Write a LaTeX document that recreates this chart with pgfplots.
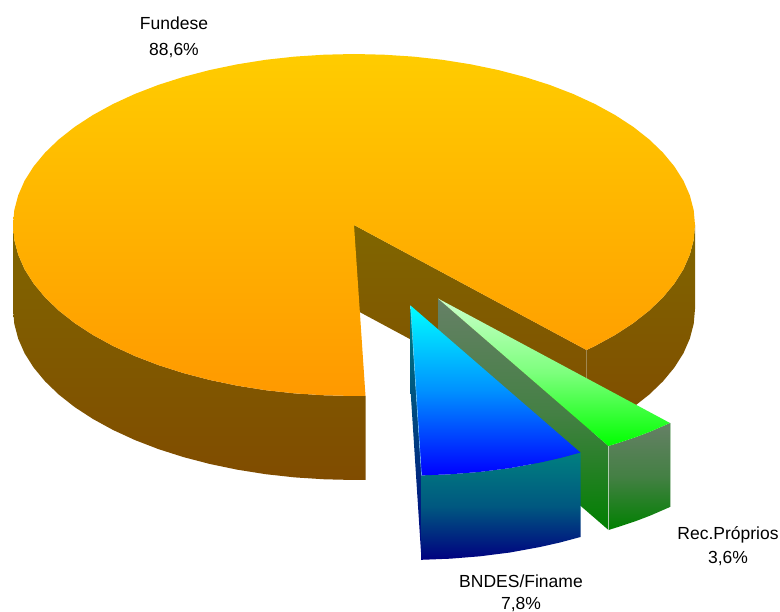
\documentclass[border=0pt]{standalone}
\usepackage{pgfplots}
\pgfplotsset{compat=1.18}
\usepackage{fontspec}
\setmainfont{Liberation Sans}

\definecolor{orangetop}{RGB}{255,204,0}
\definecolor{orangebot}{RGB}{255,153,0}
\definecolor{browntop}{RGB}{128,102,0}
\definecolor{brownbot}{RGB}{128,76,0}
\definecolor{bluetop}{RGB}{0,255,255}
\definecolor{bluemid}{RGB}{0,145,255}
\definecolor{bluebot}{RGB}{0,0,255}
\definecolor{tealtop}{RGB}{0,128,128}
\definecolor{tealmid}{RGB}{0,88,128}
\definecolor{tealbot}{RGB}{0,0,128}
\definecolor{greentop}{RGB}{204,255,204}
\definecolor{greenmid}{RGB}{125,255,125}
\definecolor{greenbot}{RGB}{0,255,0}
\definecolor{dgreentop}{RGB}{102,128,102}
\definecolor{dgreenmid}{RGB}{68,128,68}
\definecolor{dgreenbot}{RGB}{0,128,0}
\definecolor{brownedge}{RGB}{160,135,80}
\definecolor{greenedge}{RGB}{175,205,175}

\begin{document}
\begin{tikzpicture}
\begin{axis}[
    width=780pt, height=612pt, scale only axis,
    xmin=0, xmax=780, ymin=0, ymax=612,
    y dir=reverse,
    hide axis,
    clip=false,
]
\path (axis cs:0,0) rectangle (axis cs:780,612);
% Fundese, outer wall left
\addplot[draw=none, top color=browntop, bottom color=brownbot] coordinates {
    (365.5,396) (354,396) (324.3,395.3) (294.8,393.4) (265.7,390.2) (237.4,385.7)
    (209.9,380) (183.5,373.1) (158.4,365.1) (134.8,356) (112.9,345.9) (92.8,334.9)
    (74.7,323.1) (58.7,310.5) (45,297.3) (33.6,283.5) (24.6,269.3) (18.2,254.7)
    (14.3,239.9) (13,225)
    (13,309) (14.3,323.9) (18.2,338.7) (24.6,353.3) (33.6,367.5) (45,381.3)
    (58.7,394.5) (74.7,407.1) (92.8,418.9) (112.9,429.9) (134.8,440) (158.4,449.1)
    (183.5,457.1) (209.9,464) (237.4,469.7) (265.7,474.2) (294.8,477.4) (324.3,479.3)
    (354,480) (365.5,480)
} -- cycle;
% Fundese, outer wall right
\addplot[draw=none, top color=browntop, bottom color=brownbot] coordinates {
    (695,225) (693.7,239.9) (689.8,254.7) (683.4,269.3) (674.4,283.5) (663,297.3)
    (649.3,310.5) (633.3,323.1) (615.2,334.9) (595.1,345.9) (586.5,350)
    (586.5,434) (595.1,429.9) (615.2,418.9) (633.3,407.1) (649.3,394.5) (663,381.3)
    (674.4,367.5) (683.4,353.3) (689.8,338.7) (693.7,323.9) (695,309)
} -- cycle;
% Fundese, inner wall
\addplot[draw=none, top color=browntop, bottom color=brownbot] coordinates {
    (354,225) (586.5,350) (586.5,434) (354,309)
} -- cycle;
\addplot[brownedge, line width=0.5pt] coordinates {(586.5,350) (586.5,392)};
% Fundese, top
\addplot[draw=none, top color=orangetop, bottom color=orangebot] coordinates {
    (354,225) (365.5,396) (354,396) (324.3,395.3) (294.8,393.4) (265.7,390.2) (237.4,385.7)
    (209.9,380) (183.5,373.1) (158.4,365.1) (134.8,356) (112.9,345.9) (92.8,334.9)
    (74.7,323.1) (58.7,310.5) (45,297.3) (33.6,283.5) (24.6,269.3) (18.2,254.7)
    (14.3,239.9) (13,225) (14.3,210.1) (18.2,195.3) (24.6,180.7) (33.6,166.5)
    (45,152.7) (58.7,139.5) (74.7,126.9) (92.8,115.1) (112.9,104.1) (134.8,94)
    (158.4,84.9) (183.5,76.9) (209.9,70) (237.4,64.3) (265.7,59.8) (294.8,56.6)
    (324.3,54.7) (354,54) (383.7,54.7) (413.2,56.6) (442.3,59.8) (470.6,64.3)
    (498.1,70) (524.5,76.9) (549.6,84.9) (573.2,94) (595.1,104.1) (615.2,115.1)
    (633.3,126.9) (649.3,139.5) (663,152.7) (674.4,166.5) (683.4,180.7) (689.8,195.3)
    (693.7,210.1) (695,225) (693.7,239.9) (689.8,254.7) (683.4,269.3) (674.4,283.5)
    (663,297.3) (649.3,310.5) (633.3,323.1) (615.2,334.9) (595.1,345.9) (586.5,350)
} -- cycle;

% Rec.Proprios
\addplot[draw=none, top color=dgreentop, bottom color=dgreenbot, middle color=dgreenmid] coordinates {
    (438,298.5) (608.5,446) (608.5,530) (438,382.5)
} -- cycle;
\addplot[draw=none, top color=dgreentop, bottom color=dgreenbot, middle color=dgreenmid] coordinates {
    (608.5,446) (620,442.4) (635,437.4) (650,431.7) (670,423)
    (670,507) (650,515.7) (635,521.4) (620,526.4) (608.5,530)
} -- cycle;
\addplot[draw=none, top color=greentop, bottom color=greenbot, middle color=greenmid] coordinates {
    (438,298.5) (670,423) (650,431.7) (635,437.4) (620,442.4) (608.5,446)
} -- cycle;
\addplot[greenedge, line width=0.5pt] coordinates {(608.5,446) (608.5,530)};
\addplot[greenedge, line width=0.5pt] coordinates {(670,423) (670,507)};

% BNDES/Finame
\addplot[draw=none, top color=tealtop, bottom color=tealbot] coordinates {
    (410.5,305.5) (410.5,390) (421.5,560) (421.5,475.4)
} -- cycle;
\addplot[draw=none, top color=tealtop, bottom color=tealbot, middle color=tealmid] coordinates {
    (421.5,475.4) (450,474.3) (480,471.9) (510,468.1) (540,462.6) (560,458.1) (580.5,452.6)
    (580.5,537) (560,542.5) (540,547) (510,552.5) (480,556.3) (450,558.7) (421.5,559.8)
} -- cycle;
\addplot[draw=none, top color=bluetop, bottom color=bluebot, middle color=bluemid] coordinates {
    (410.5,305.5) (580.5,452.6) (560,458.1) (540,462.6) (510,468.1) (480,471.9) (450,474.3) (421.5,475.4)
} -- cycle;
\addplot[white!50!cyan, line width=0.4pt] coordinates {(410.5,305.5) (421.5,475.4)};

% labels
\tikzset{lbl/.style={inner sep=0pt, font=\fontsize{17.5}{20}\selectfont}}
\node[lbl] at (axis cs:174,23.5) {Fundese};
\node[lbl] at (axis cs:174,51) {88,6\%};
\node[lbl] at (axis cs:728,534.5) {Rec.Próprios};
\node[lbl] at (axis cs:728,559) {3,6\%};
\node[lbl] at (axis cs:521,581.5) {BNDES/Finame};
\node[lbl] at (axis cs:521,604.5) {7,8\%};
\end{axis}
\end{tikzpicture}
\end{document}
